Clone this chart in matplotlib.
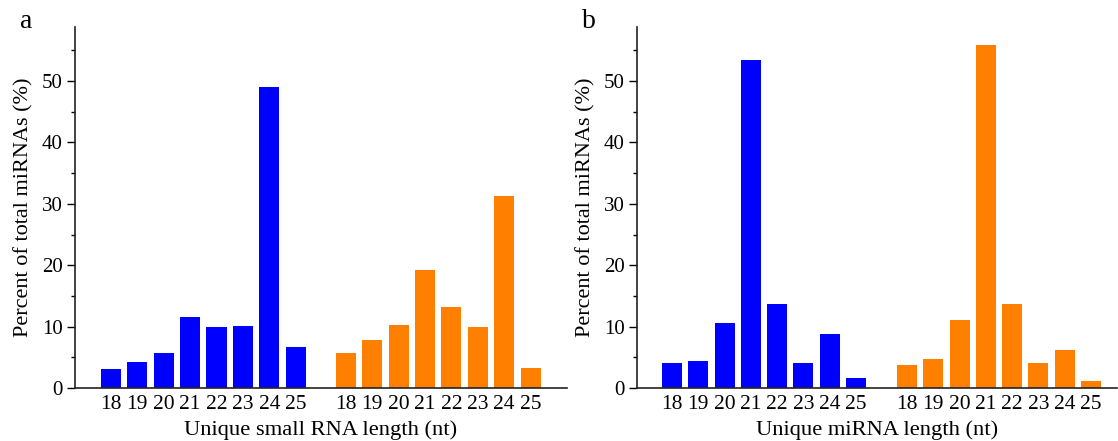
import matplotlib
matplotlib.use("Agg")
import matplotlib.pyplot as plt
import numpy as np
from matplotlib.ticker import MultipleLocator

plt.rcParams['font.family'] = ['Liberation Serif', 'DejaVu Serif']

lengths = ["18", "19", "20", "21", "22", "23", "24", "25"]

# Panel a: unique small RNA length
a_blue = [3.1, 4.2, 5.7, 11.6, 10.0, 10.1, 49.0, 6.6]
a_orange = [5.7, 7.8, 10.2, 19.2, 13.2, 9.9, 31.2, 3.3]

# Panel b: unique miRNA length
b_blue = [4.1, 4.4, 10.6, 53.4, 13.7, 4.0, 8.8, 1.7]
b_orange = [3.7, 4.8, 11.0, 55.9, 13.7, 4.1, 6.2, 1.2]

panel_labels = ["a", "b"]
xlabels = ["Unique small RNA length (nt)", "Unique miRNA length (nt)"]
ylabel = "Percent of total miRNAs (%)"

BLUE = "#0000FF"
ORANGE = "#FF8000"

fig = plt.figure(figsize=(11.18, 4.41), dpi=100)

axes_rects = [
    [75 / 1118, 53 / 441, 492 / 1118, 361 / 441],
    [637 / 1118, 53 / 441, 480 / 1118, 361 / 441],
]
gaps = [1.9, 1.94]
xlims = [(-0.36, 18.28), (-0.33, 17.93)]

datasets = [(a_blue, a_orange), (b_blue, b_orange)]

for k in range(2):
    ax = fig.add_axes(axes_rects[k])
    blue, orange = datasets[k]
    n = len(lengths)
    xb = np.arange(1, n + 1)
    xo = xb + n - 1 + gaps[k]
    ax.bar(xb, blue, width=0.76, color=BLUE, edgecolor="none")
    ax.bar(xo, orange, width=0.76, color=ORANGE, edgecolor="none")
    ax.set_xticks(np.concatenate([xb, xo]))
    ax.set_xticklabels(lengths + lengths, fontsize=15.5)
    ax.tick_params(axis='x', length=0, pad=5)
    ax.set_xlim(*xlims[k])
    ax.set_ylim(0, 58.8)
    ax.yaxis.set_major_locator(MultipleLocator(10))
    ax.yaxis.set_minor_locator(MultipleLocator(5))
    ax.tick_params(axis='y', which='major', direction='out', length=5.5,
                   width=1, labelsize=15, pad=3.5)
    ax.tick_params(axis='y', which='minor', direction='out', length=2.8, width=1)
    for s in ["top", "right"]:
        ax.spines[s].set_visible(False)
    for s in ["left", "bottom"]:
        ax.spines[s].set_linewidth(1.2)
        ax.spines[s].set_color("#222222")
    ax.set_xlabel(xlabels[k], fontsize=16.2, labelpad=4.5)
    ax.set_ylabel(ylabel, fontsize=16, labelpad=6)
    fig.text(axes_rects[k][0] - 55 / 1118, 1 - 21 / 441, panel_labels[k],
             fontsize=20, ha="left", va="center")

fig.savefig("out.png", dpi=100)
